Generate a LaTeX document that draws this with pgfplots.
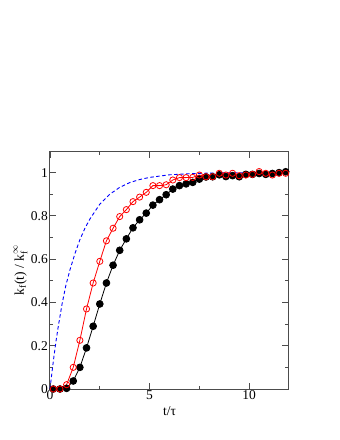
\documentclass[border=0pt]{standalone}
\usepackage{amsmath}
\usepackage{fontspec}
\setmainfont{Liberation Serif}
\usepackage{pgfplots}
\pgfplotsset{compat=1.18}

\begin{document}
\begin{tikzpicture}
\path[use as bounding box] (-50pt,-51pt) rectangle (290pt,389pt);
\begin{axis}[
    at={(0,0)}, anchor=south west,
    scale only axis, width=239pt, height=238pt,
    xmin=0, xmax=12, ymin=0, ymax=1.1,
    xtick={0,5,10}, ytick={0,0.2,0.4,0.6,0.8,1},
    minor x tick num=1, minor y tick num=1,
    major tick length=6.5pt, minor tick length=3.5pt,
    axis line style={black!70, line width=1pt},
    every tick/.style={black!70, line width=0.9pt},
    tick label style={font=\fontsize{13.5}{15}\selectfont},
    label style={font=\fontsize{13.5}{15}\selectfont},
    xticklabel style={inner sep=1.5pt},
    yticklabel style={inner sep=2pt},
    xlabel style={yshift=-2pt},
    ylabel style={yshift=-2pt},
    /pgf/number format/assume math mode=true,
    xlabel={t/τ},
    ylabel={$\text{k}_\text{f}\text{(t) / k}_\text{f}^{\infty}$},
    clip=false,
]
% dashed reference curve
\addplot[blue, dashed, line width=0.9pt, dash pattern=on 3.5pt off 2.5pt] coordinates {
    (0,0)(0.1,0.078)(0.2,0.152)(0.3,0.22)(0.4,0.28)(0.6,0.39)(0.8,0.48)
    (1.0,0.55)(1.25,0.625)(1.5,0.69)(1.75,0.742)(2,0.785)(2.5,0.854)(3,0.9)
    (3.5,0.932)(4,0.954)(4.5,0.968)(5,0.978)(6,0.99)(7,0.995)(8,0.998)
    (10,1.0)(12,1.0)
};
% filled circles
\addplot[black, line width=0.8pt, mark=*, mark size=3.4pt] coordinates {
    (0.1667,0)(0.5,0)(0.8333,0.003)(1.1667,0.037)(1.5,0.10)(1.8333,0.19)
    (2.1667,0.29)(2.5,0.393)(2.8333,0.49)(3.1667,0.572)(3.5,0.641)(3.8333,0.694)
    (4.1667,0.745)(4.5,0.782)(4.8333,0.813)(5.1667,0.85)(5.5,0.875)(5.8333,0.898)
    (6.1667,0.924)(6.5,0.94)(6.8333,0.948)(7.1667,0.955)(7.5,0.97)(7.8333,0.98)
    (8.1667,0.981)(8.5,0.99)(8.8333,0.982)(9.1667,0.986)(9.5,0.981)(9.8333,0.992)
    (10.1667,0.992)(10.5,0.996)(10.8333,0.992)(11.1667,0.996)(11.5,1.0)(11.8333,1.004)
};
% open circles
\addplot[red, line width=0.8pt, mark=o, mark size=3.1pt] coordinates {
    (0.1667,0)(0.5,0)(0.8333,0.02)(1.1667,0.10)(1.5,0.225)(1.8333,0.37)
    (2.1667,0.49)(2.5,0.59)(2.8333,0.685)(3.1667,0.743)(3.5,0.797)(3.8333,0.829)
    (4.1667,0.866)(4.5,0.887)(4.8333,0.909)(5.1667,0.94)(5.5,0.94)(5.8333,0.944)
    (6.1667,0.966)(6.5,0.977)(6.8333,0.977)(7.1667,0.978)(7.5,0.989)(7.8333,0.981)
    (8.1667,0.981)(8.5,0.997)(8.8333,0.989)(9.1667,0.997)(9.5,0.986)(9.8333,0.989)
    (10.1667,0.992)(10.5,1.005)(10.8333,0.997)(11.1667,0.989)(11.5,0.997)(11.8333,0.997)
};
\end{axis}
\end{tikzpicture}
\end{document}
